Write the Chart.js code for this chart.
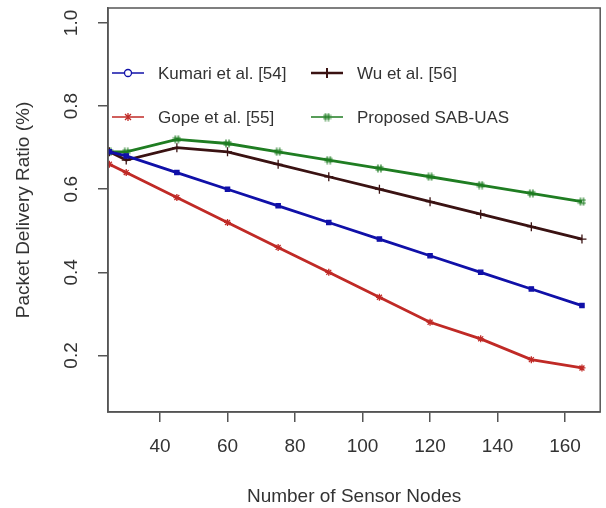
<!DOCTYPE html>
<html>
<head>
<meta charset="utf-8">
<script src="https://cdn.jsdelivr.net/npm/chart.js@4.4.1/dist/chart.umd.min.js"></script>
<style>
  html, body { margin: 0; padding: 0; background: #fff; }
  #wrap { width: 606px; height: 508px; }
</style>
</head>
<body>
<div id="wrap"><canvas id="c" width="606" height="508"></canvas></div>
<script>
// values
const nodes    = [25, 30, 45, 60, 75, 90, 105, 120, 135, 150, 165];
const kumari   = [0.69, 0.68, 0.64, 0.60, 0.56, 0.52, 0.48, 0.44, 0.40, 0.36, 0.32];
const wu       = [0.69, 0.67, 0.70, 0.69, 0.66, 0.63, 0.60, 0.57, 0.54, 0.51, 0.48];
const gope     = [0.66, 0.64, 0.58, 0.52, 0.46, 0.40, 0.34, 0.28, 0.24, 0.19, 0.17];
const proposed = [0.69, 0.69, 0.72, 0.71, 0.69, 0.67, 0.65, 0.63, 0.61, 0.59, 0.57];

const xTicks = [40, 60, 80, 100, 120, 140, 160];
const yTicks = [0.2, 0.4, 0.6, 0.8, 1.0];

const COLORS = {
  kumari: '#1010a8',
  wu: '#3a1212',
  gope: '#c02a26',
  proposed: '#1f7d22',
  axis: '#555555',
  text: '#333333'
};

const FONT = 'Liberation Sans, Arial, sans-serif';

const toPoints = (ys) => ys.map((y, i) => ({ x: nodes[i], y: y }));

// '#' marker for the proposed scheme
const hashMarker = (() => {
  const c = document.createElement('canvas');
  c.width = 9; c.height = 9;
  const g = c.getContext('2d');
  g.strokeStyle = COLORS.proposed;
  g.lineWidth = 1.2;
  g.beginPath();
  g.moveTo(3, 0.5); g.lineTo(3, 8.5);
  g.moveTo(6, 0.5); g.lineTo(6, 8.5);
  g.moveTo(0.5, 3); g.lineTo(8.5, 3);
  g.moveTo(0.5, 6); g.lineTo(8.5, 6);
  g.stroke();
  return c;
})();

const legendItems = [
  { label: 'Kumari et al. [54]', color: COLORS.kumari, marker: 'circle', col: 0, row: 0 },
  { label: 'Wu et al. [56]', color: COLORS.wu, marker: 'cross', col: 1, row: 0 },
  { label: 'Gope et al. [55]', color: COLORS.gope, marker: 'star', col: 0, row: 1 },
  { label: 'Proposed SAB-UAS', color: COLORS.proposed, marker: 'hash', col: 1, row: 1 }
];

const boxAndLegend = {
  id: 'boxAndLegend',
  afterDraw(chart) {
    const { ctx, chartArea: a } = chart;
    ctx.save();
    ctx.strokeStyle = COLORS.axis;
    ctx.lineWidth = 1.5;
    ctx.strokeRect(a.left, a.top, a.right - a.left, a.bottom - a.top);

    const colX = [112, 311];
    const rowY = [73, 117];
    ctx.font = '17px ' + FONT;
    ctx.textBaseline = 'middle';
    ctx.textAlign = 'left';
    legendItems.forEach(it => {
      const x0 = colX[it.col], y = rowY[it.row];
      const mx = x0 + 16;
      ctx.strokeStyle = it.color;
      ctx.lineWidth = it.marker === 'cross' ? 2.5 : 1.5;
      ctx.beginPath();
      ctx.moveTo(x0, y); ctx.lineTo(x0 + 32, y);
      ctx.stroke();
      ctx.lineWidth = 1.3;
      if (it.marker === 'circle') {
        ctx.fillStyle = '#fff';
        ctx.beginPath(); ctx.arc(mx, y, 3.5, 0, Math.PI * 2); ctx.fill(); ctx.stroke();
      } else if (it.marker === 'cross') {
        ctx.lineWidth = 2;
        ctx.beginPath(); ctx.moveTo(mx, y - 5); ctx.lineTo(mx, y + 5); ctx.stroke();
      } else if (it.marker === 'star') {
        ctx.beginPath();
        ctx.moveTo(mx - 3, y - 3); ctx.lineTo(mx + 3, y + 3);
        ctx.moveTo(mx + 3, y - 3); ctx.lineTo(mx - 3, y + 3);
        ctx.moveTo(mx, y - 4); ctx.lineTo(mx, y + 4);
        ctx.stroke();
      } else {
        ctx.drawImage(hashMarker, mx - 4.5, y - 4.5);
      }
      ctx.fillStyle = COLORS.text;
      ctx.fillText(it.label, x0 + 46, y + 1);
    });
    ctx.restore();
  }
};

const series = (data, color, style, radius) => ({
  data: toPoints(data),
  borderColor: color,
  backgroundColor: color,
  borderWidth: 2.8,
  pointStyle: style,
  pointRadius: radius,
  pointBorderWidth: 1.3,
  tension: 0
});

const ctx = document.getElementById('c');

const myChart = new Chart(ctx, {
  type: 'line',
  data: {
    datasets: [
      series(gope, COLORS.gope, 'star', 3.5),
      series(kumari, COLORS.kumari, 'rect', 3),
      series(wu, COLORS.wu, 'cross', 4.5),
      series(proposed, COLORS.proposed, hashMarker, 4.5)
    ]
  },
  options: {
    responsive: false,
    animation: false,
    layout: { padding: { left: 0, right: 2, top: 8, bottom: 0 } },
    plugins: {
      legend: { display: false },
      tooltip: { enabled: false }
    },
    scales: {
      x: {
        type: 'linear',
        min: 24.6,
        max: 170.4,
        afterBuildTicks: s => { s.ticks = xTicks.map(v => ({ value: v })); },
        afterFit: s => { s.height = 96; s.paddingLeft = 0; s.paddingRight = 0; },
        grid: { display: true, drawOnChartArea: false, tickLength: 10, color: COLORS.axis, lineWidth: 1.5 },
        border: { display: true, color: COLORS.axis, width: 1.5 },
        ticks: { color: COLORS.text, font: { family: FONT, size: 19 }, padding: 13, maxRotation: 0 },
        title: { display: true, text: 'Number of Sensor Nodes', color: COLORS.text, font: { family: FONT, size: 19 }, padding: { top: 0, bottom: 0 } }
      },
      y: {
        type: 'linear',
        min: 0.064,
        max: 1.036,
        afterBuildTicks: s => { s.ticks = yTicks.map(v => ({ value: v })); },
        afterFit: s => { s.width = 108; s.paddingTop = 0; s.paddingBottom = 0; },
        grid: { display: true, drawOnChartArea: false, tickLength: 10, color: COLORS.axis, lineWidth: 1.5 },
        border: { display: true, color: COLORS.axis, width: 1.5 },
        ticks: {
          color: COLORS.text, font: { family: FONT, size: 19 },
          minRotation: 90, maxRotation: 90, crossAlign: 'center', padding: 13,
          callback: v => v.toFixed(1)
        },
        title: { display: true, text: 'Packet Delivery Ratio (%)', color: COLORS.text, font: { family: FONT, size: 19 }, padding: { top: 12, bottom: 0 } }
      }
    }
  },
  plugins: [boxAndLegend]
});
</script>
</body>
</html>
